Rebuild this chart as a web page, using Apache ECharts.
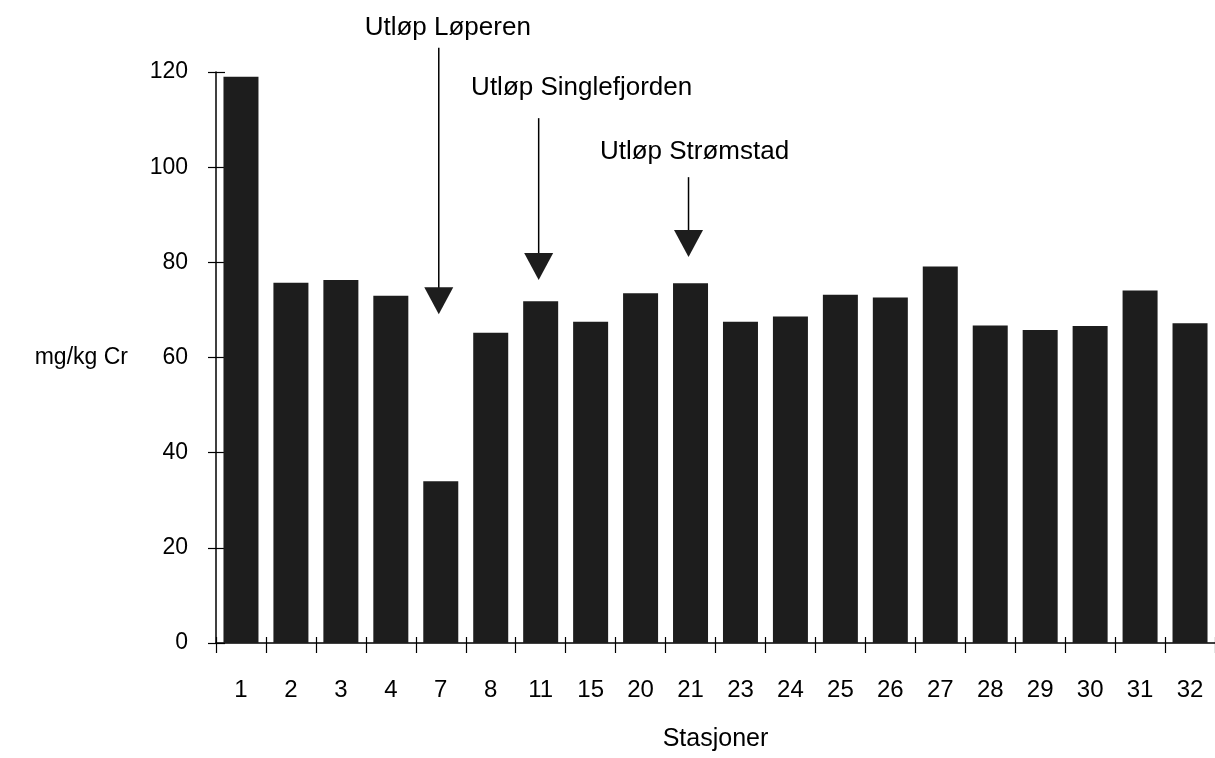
<!doctype html>
<html lang="no">
<head>
    <meta charset="UTF-8">
    <title>mg/kg Cr - Stasjoner</title>
    <script src="https://cdn.jsdelivr.net/npm/echarts@6/dist/echarts.min.js"></script>
    <style>
        html, body { margin: 0; padding: 0; background: #fff; }
        #cr_echart { width: 1215px; height: 758px; }
    </style>
</head>
<body>
<div id="cr_echart"></div>

<script type="text/javascript">
/* 1. data */
const stations = ['1', '2', '3', '4', '7', '8', '11', '15', '20', '21',
                  '23', '24', '25', '26', '27', '28', '29', '30', '31', '32'];
const crValues = [119, 75.7, 76.3, 73, 34, 65.2, 71.8, 67.5, 73.5, 75.6,
                  67.5, 68.6, 73.2, 72.6, 79.1, 66.7, 65.8, 66.6, 74.1, 67.2];
const yTicks = [0, 20, 40, 60, 80, 100, 120];

const annoLabels = ['Utløp Løperen', 'Utløp Singlefjorden', 'Utløp Strømstad'];
const annoStations = ['7', '11', '21'];

/* arrow layout, in axis values (tip / line start / text centre) + text x shift */
const annoLayout = [
    { tip: 69.1, lineTop: 125.1, textAt: 129.3, dx: 9 },
    { tip: 76.3, lineTop: 110.3, textAt: 116.6, dx: 43 },
    { tip: 81.1, lineTop: 97.9,  textAt: 103.2, dx: 6 }
];

const FONT = '"Liberation Sans", Arial, Helvetica, sans-serif';

/* 2. chart */
let cr_echart = echarts.init(document.getElementById('cr_echart'));

let option = {
    animation: false,
    backgroundColor: '#fff',
    grid: {
        left: 216,
        right: 0,
        top: 72,
        bottom: 115,
        containLabel: false,
        outerBoundsMode: 'none'
    },
    xAxis: [
        {
            type: 'category',
            data: stations,
            name: 'Stasjoner',
            nameLocation: 'middle',
            nameGap: 84,
            nameTextStyle: { color: '#000', fontSize: 25, fontFamily: FONT },
            axisLine: { lineStyle: { color: '#000', width: 1.5 } },
            axisTick: { show: true, inside: false, length: 10, lineStyle: { color: '#000', width: 1.2 } },
            axisLabel: { color: '#000', fontSize: 24, fontFamily: FONT, margin: 35 },
            splitLine: { show: false }
        },
        {
            // inner half of the crossing ticks
            type: 'category',
            data: stations,
            position: 'bottom',
            axisLine: { show: false },
            axisTick: { show: true, inside: true, length: 6, lineStyle: { color: '#000', width: 1.2 } },
            axisLabel: { show: false },
            splitLine: { show: false }
        }
    ],
    yAxis: [
        {
            type: 'value',
            min: yTicks[0],
            max: yTicks[yTicks.length - 1],
            interval: yTicks[1] - yTicks[0],
            name: 'mg/kg Cr',
            nameLocation: 'middle',
            nameRotate: 0,
            nameGap: 88,
            nameTextStyle: { color: '#000', fontSize: 23, fontFamily: FONT, align: 'right' },
            axisLine: { show: true, lineStyle: { color: '#000', width: 1.5 } },
            axisTick: { show: true, inside: false, length: 8, lineStyle: { color: '#000', width: 1.2 } },
            axisLabel: { color: '#000', fontSize: 23, fontFamily: FONT, margin: 28 },
            splitLine: { show: false }
        },
        {
            type: 'value',
            min: yTicks[0],
            max: yTicks[yTicks.length - 1],
            interval: yTicks[1] - yTicks[0],
            position: 'left',
            axisLine: { show: false },
            axisTick: { show: true, inside: true, length: 9, lineStyle: { color: '#000', width: 1.2 } },
            axisLabel: { show: false },
            splitLine: { show: false }
        }
    ],
    series: [
        {
            name: 'mg/kg Cr',
            type: 'bar',
            data: crValues,
            barWidth: 35,
            itemStyle: { color: '#1d1d1d' }
        }
    ]
};
cr_echart.setOption(option);

/* 3. arrows + labels, placed via the axes */
function drawAnnotations() {
    let els = [];
    annoLabels.forEach(function (name, i) {
        let lay = annoLayout[i];
        let idx = stations.indexOf(annoStations[i]);
        let tip = cr_echart.convertToPixel({ gridIndex: 0 }, [idx, lay.tip]);
        let top = cr_echart.convertToPixel({ gridIndex: 0 }, [idx, lay.lineTop]);
        let txt = cr_echart.convertToPixel({ gridIndex: 0 }, [idx, lay.textAt]);
        let x = tip[0] - 2;
        els.push({
            type: 'line',
            shape: { x1: x, y1: top[1], x2: x, y2: tip[1] - 20 },
            style: { stroke: '#000', lineWidth: 1.5 }
        });
        els.push({
            type: 'polygon',
            shape: { points: [[x - 14.5, tip[1] - 27], [x + 14.5, tip[1] - 27], [x, tip[1]]] },
            style: { fill: '#1d1d1d' }
        });
        els.push({
            type: 'text',
            x: x + lay.dx,
            y: txt[1],
            style: {
                text: name,
                font: '26px ' + FONT,
                fill: '#000',
                align: 'center',
                verticalAlign: 'middle'
            }
        });
    });
    cr_echart.setOption({ graphic: els });
}
drawAnnotations();

window.addEventListener('resize', function () {
    cr_echart.resize();
    drawAnnotations();
});
</script>
</body>
</html>
